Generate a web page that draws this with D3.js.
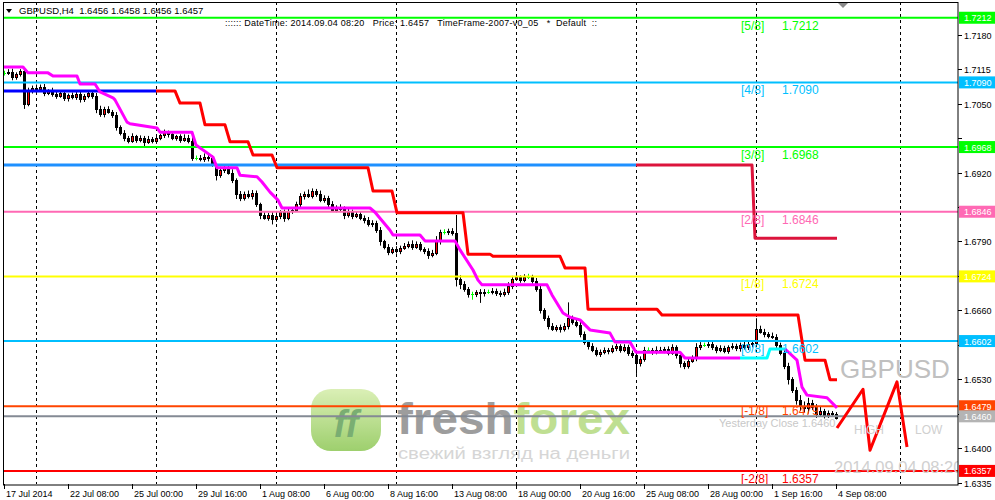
<!DOCTYPE html>
<html lang="en">
<head>
<meta charset="UTF-8">
<title>GBPUSD,H4</title>
<script src="https://cdn.jsdelivr.net/npm/d3@7"></script>
<style>
  body { margin: 0; background: #fff; }
  text { font-family: 'Liberation Sans', Arial, sans-serif; }
</style>
</head>
<body>
<svg width="995" height="500" id="mainsvg"></svg>
<script>
// H4 closes, pips above 1.6000 (one per bar, 17 Jul .. 4 Sep 08:00)
const closes = [
  1108,1110,1100,1105,1112,1050,1075,1080,1078,1082,
  1070,1074,1068,1065,1070,1060,1066,1062,1068,1058,
  1064,1070,1065,1040,1030,1040,1035,1028,1005,995,
  985,980,988,982,985,978,983,980,985,990,
  995,992,985,988,982,986,980,948,948,945,
  950,947,935,915,925,930,920,905,880,872,
  880,875,882,860,840,835,840,832,838,845,
  835,848,850,860,875,880,876,885,880,868,
  872,860,850,855,852,840,845,838,842,835,
  830,822,825,812,790,780,770,775,772,778,
  782,786,780,785,776,772,765,768,790,808,
  808,810,805,720,710,700,690,690,694,692,
  695,695,696,693,690,695,705,720,722,718,
  723,723,716,700,660,645,630,625,628,624,
  630,645,638,632,615,600,592,585,578,582,
  585,583,588,592,586,590,580,575,560,568,
  585,585,582,586,585,587,580,590,575,560,
  555,565,570,590,595,595,596,590,585,588,
  584,590,592,588,595,590,596,598,625,620,
  615,612,610,595,580,555,530,510,490,480,
  475,485,478,465,470,462,466,465,457
];
const upWick = [
  4,5,6,4,3,3,5,4,6,4, 5,3,6,4,5,4,3,5,4,6, 4,5,3,5,6,4,5,3,6,4,
  5,4,6,3,5,4,6,4,5,3, 6,4,5,3,4,6,5,8,4,5, 6,4,5,3,6,4,5,6,4,5,
  4,6,5,4,3,5,4,6,5,4, 5,6,4,5,6,4,8,5,4,6, 5,4,6,3,5,4,6,5,4,5,
  4,6,5,4,5,3,5,4,6,4, 5,4,6,5,4,3,5,6,10,4, 5,4,5,35,6,5,4,5,4,6,
  5,4,6,5,4,6,8,5,6,4, 5,6,4,5,6,4,5,6,4,5, 6,30,5,4,6,5,4,6,5,4,
  5,4,6,5,4,6,5,4,6,5, 6,5,4,6,5,4,5,6,4,5, 4,6,5,8,5,4,6,5,4,6,
  5,4,6,5,4,6,5,4,20,6, 5,4,6,5,4,5,6,4,5,10, 8,10,6,5,8,4,5,4,3
];
const dnWick = [
  5,4,6,5,4,10,5,6,4,5, 6,4,5,6,4,5,6,4,5,6, 5,4,6,8,5,6,4,5,6,5,
  6,5,4,6,5,8,4,5,6,4, 5,6,4,5,6,4,5,6,5,4, 5,6,4,10,5,6,4,5,10,6,
  5,4,6,5,8,4,6,10,5,6, 8,5,6,4,5,6,4,5,6,4, 5,6,4,5,6,8,5,6,4,5,
  6,4,5,6,8,5,6,4,5,6, 4,5,6,4,5,6,8,5,4,6, 5,6,4,15,10,5,6,10,5,18,
  6,4,5,6,5,4,6,5,4,6, 5,4,6,5,6,5,6,4,5,6, 4,6,5,4,6,5,6,4,5,6,
  5,6,4,5,6,5,6,5,20,6, 5,4,6,5,4,6,5,4,6,8, 6,5,4,6,5,4,6,5,6,4,
  5,6,4,5,6,4,5,6,5,4, 6,5,4,6,5,6,10,6,8,10, 8,10,6,8,5,6,5,4,3
];

const timeLabels = ['17 Jul 2014', '22 Jul 08:00', '25 Jul 00:00', '29 Jul 16:00', '1 Aug 08:00',
  '6 Aug 00:00', '8 Aug 16:00', '13 Aug 08:00', '18 Aug 00:00', '20 Aug 16:00', '25 Aug 08:00',
  '28 Aug 00:00', '1 Sep 16:00', '4 Sep 08:00'];
const timeLabelBars = [0, 16, 32, 48, 64, 80, 96, 112, 128, 144, 160, 176, 192, 208];
const gridBars = [8, 38, 68, 98, 128, 158, 188, 224];
const priceTicks = [1.7180, 1.7115, 1.7050, 1.6985, 1.6920, 1.6855, 1.6790, 1.6725,
  1.6660, 1.6595, 1.6530, 1.6465, 1.6400, 1.6335];

// Murrey math levels
const levelPrices = [1.7212, 1.7090, 1.6968, 1.6846, 1.6724, 1.6602, 1.6479, 1.6357];
const levelNames = ['[5/8]', '[4/8]', '[3/8]', '[2/8]', '[1/8]', '[0/8]', '[-1/8]', '[-2/8]'];
const levelColors = ['#00ff00', '#00bfff', '#00ff00', '#ff69b4', '#ffff00', '#00bfff', '#ff4500', '#ff0000'];
const labelDy = [12, 12, 12, 12, 12, 12, 9, 12];
const yesterdayClose = 1.6460;
const header = ['1.6456', '1.6458', '1.6456', '1.6457'];

// trailing line (magenta, with a cyan piece)
const magBars = [0, 4.75, 6, 11, 12.25, 18.25, 19, 22.75, 24, 27.25, 27.75, 30.75, 31.5, 38.25, 39, 47, 48,
  52.25, 53.25, 58.25, 59, 63.25, 64.5, 66.5, 68.5, 69.5, 91.5, 92.75, 96.5, 97.25, 104, 105.25, 112.75,
  114, 117.25, 118.5, 119.5, 135.75, 137, 139.75, 141.5, 144, 146.5, 151.5, 152.75, 156.5, 158, 169,
  170.25, 184];
const magPrices = [1.7119, 1.7119, 1.7108, 1.7108, 1.7102, 1.7102, 1.7087, 1.7087, 1.7072, 1.7061, 1.7057,
  1.7015, 1.7012, 1.7004, 1.6996, 1.6996, 1.6972, 1.6949, 1.6929, 1.6929, 1.6915, 1.6912, 1.6902, 1.6883,
  1.6868, 1.6853, 1.6853, 1.6845, 1.6811, 1.6802, 1.6802, 1.6791, 1.6791, 1.6774, 1.6736, 1.6717, 1.6708,
  1.6708, 1.6689, 1.6655, 1.6647, 1.6642, 1.6623, 1.6617, 1.6600, 1.6600, 1.6581, 1.6581, 1.6570, 1.6570];
const cyanBars = [184, 190.75, 191.5, 195.25];
const cyanPrices = [1.6570, 1.6570, 1.6587, 1.6587];
const mag2Bars = [195.25, 198.25, 199.5, 200.75, 205.75, 208.25];
const mag2Prices = [1.6587, 1.6566, 1.6515, 1.6500, 1.6495, 1.6476];

// red step resistance
const redFrom = [38, 44, 50.25, 56.5, 62.25, 68.25, 92.25, 98.25, 116, 122.25, 140.25, 146, 164.5, 200.25, 206.5];
const redTo = [42.75, 49, 55.25, 61, 67, 91, 97, 114.75, 121.5, 139, 145.25, 163.25, 198.5, 205.25, 208.25];
const redLevel = [1.7074, 1.7051, 1.7010, 1.6978, 1.6953, 1.6929, 1.6885, 1.6844, 1.6766, 1.6762, 1.6740,
  1.6662, 1.6651, 1.6566, 1.6529];

const blueBars = [0, 38], bluePrices = [1.7074, 1.7074];
const dodgerBars = [0, 158], dodgerPrices = [1.6934, 1.6934];
const crimsonBars = [158, 187, 187.75, 208.25];
const crimsonPrices = [1.6934, 1.6934, 1.6796, 1.6796];
const zigBars = [208.25, 214.75, 216.5, 223.25, 225.75];
const zigPrices = [1.6438, 1.6511, 1.6396, 1.6525, 1.6402];

const svg = d3.select('#mainsvg');
const plotL = 3, plotR = 958, plotT = 2, plotB = 484;

const xScale = d3.scaleLinear().domain([0, 238.5]).range([4, 958]);
const yScale = d3.scaleLinear().domain([1.63323, 1.72417]).range([plotB, plotT]);
const px = p => 1.6 + p / 10000;

svg.append('rect').attr('width', 995).attr('height', 500).attr('fill', '#fff');
svg.append('clipPath').attr('id', 'plot').append('rect')
  .attr('x', plotL).attr('y', plotT).attr('width', plotR - plotL).attr('height', plotB - plotT);
const g = svg.append('g').attr('clip-path', 'url(#plot)');

// watermark
const defs = svg.append('defs');
const grad = defs.append('linearGradient').attr('id', 'logo').attr('x1', 0).attr('y1', 0).attr('x2', 0).attr('y2', 1);
grad.append('stop').attr('offset', '0%').attr('stop-color', '#d2eca4');
grad.append('stop').attr('offset', '100%').attr('stop-color', '#86c44a');
const wm = g.append('g').attr('opacity', 0.8);
wm.append('rect').attr('x', 311).attr('y', 389).attr('width', 70).attr('height', 62).attr('rx', 20)
  .attr('fill', 'url(#logo)');
wm.append('text').attr('x', 346).attr('y', 437).attr('text-anchor', 'middle')
  .attr('font-size', 38).attr('font-weight', 'bold').attr('font-style', 'italic')
  .attr('fill', '#5a9a50').text('ff');
const brand = wm.append('text').attr('x', 397).attr('y', 434).attr('font-size', 44).attr('font-weight', 'bold')
  .attr('textLength', 233).attr('lengthAdjust', 'spacingAndGlyphs');
brand.append('tspan').attr('fill', '#858585').text('fresh');
brand.append('tspan').attr('fill', '#b0d878').text('forex');
wm.append('text').attr('x', 398).attr('y', 459).attr('font-size', 16).attr('fill', '#cccccc')
  .attr('textLength', 232).attr('lengthAdjust', 'spacingAndGlyphs').text('свежий взгляд на деньги');

// dashed grid
g.selectAll('.grid').data(gridBars).enter().append('line')
  .attr('x1', d => Math.round(xScale(d)) + 0.5).attr('x2', d => Math.round(xScale(d)) + 0.5)
  .attr('y1', plotT).attr('y2', plotB)
  .attr('stroke', '#000').attr('stroke-dasharray', '3,3');

// candles
const bars = closes.map((c, i) => {
  const o = i === 0 ? c : closes[i - 1];
  return { i, o: px(o), c: px(c), h: px(Math.max(o, c) + upWick[i]), l: px(Math.min(o, c) - dnWick[i]) };
});
const cg = g.append('g');
bars.forEach(b => {
  const cx = Math.round(xScale(b.i));
  const doji = b.o === b.c;
  const col = doji ? '#00ff00' : '#000';
  cg.append('line').attr('x1', cx + 0.5).attr('x2', cx + 0.5)
    .attr('y1', yScale(b.h)).attr('y2', yScale(b.l)).attr('stroke', col);
  if (doji) {
    const yy = Math.round(yScale(b.c)) + 0.5;
    cg.append('line').attr('x1', cx - 1).attr('x2', cx + 2).attr('y1', yy).attr('y2', yy).attr('stroke', col);
  } else {
    const y1 = Math.round(yScale(Math.max(b.o, b.c))) + 0.5;
    const y2 = Math.round(yScale(Math.min(b.o, b.c))) + 0.5;
    cg.append('rect').attr('x', cx - 0.5).attr('width', 2).attr('y', y1).attr('height', Math.max(y2 - y1, 1))
      .attr('fill', b.c > b.o ? '#ff0000' : '#000').attr('stroke', '#000');
  }
});

// horizontal levels
g.selectAll('.lvl').data(levelPrices).enter().append('line')
  .attr('x1', plotL).attr('x2', plotR)
  .attr('y1', d => yScale(d)).attr('y2', d => yScale(d))
  .attr('stroke', (d, i) => levelColors[i]).attr('stroke-width', 2);
g.append('line').attr('x1', plotL).attr('x2', plotR)
  .attr('y1', yScale(yesterdayClose)).attr('y2', yScale(yesterdayClose))
  .attr('stroke', '#848a94').attr('stroke-width', 2);

const line = d3.line().x(d => xScale(d[0])).y(d => yScale(d[1]));
const zipped = (bs, ps) => bs.map((b, i) => [b, ps[i]]);
const drawLine = (pts, color, w) => g.append('path').attr('d', line(pts))
  .attr('fill', 'none').attr('stroke', color).attr('stroke-width', w).attr('stroke-linejoin', 'round');

drawLine(zipped(blueBars, bluePrices), '#0000ff', 3);
drawLine(zipped(dodgerBars, dodgerPrices), '#1e90ff', 3);
drawLine(zipped(crimsonBars, crimsonPrices), '#dc143c', 3);
const redPts = [];
redFrom.forEach((f, i) => { redPts.push([f, redLevel[i]]); redPts.push([redTo[i], redLevel[i]]); });
drawLine(redPts, '#ff0000', 3);
drawLine(zipped(magBars, magPrices), '#ff00ff', 3);
drawLine(zipped(cyanBars, cyanPrices), '#00ffff', 3);
drawLine(zipped(mag2Bars, mag2Prices), '#ff00ff', 3);
drawLine(zipped(zigBars, zigPrices), '#ff0000', 3);

// level labels
levelPrices.forEach((p, i) => {
  g.append('text').attr('x', xScale(184.25)).attr('y', yScale(p) + labelDy[i])
    .attr('font-size', 12).attr('fill', levelColors[i]).text(levelNames[i]);
  g.append('text').attr('x', xScale(194.5)).attr('y', yScale(p) + labelDy[i])
    .attr('font-size', 12).attr('fill', levelColors[i]).text(p.toFixed(4));
});
g.append('text').attr('x', 719).attr('y', yScale(yesterdayClose) + 11)
  .attr('font-size', 11).attr('fill', '#c8c8c8').text('Yesterday Close ' + yesterdayClose.toFixed(4));

// annotations on the right
g.append('text').attr('x', 840).attr('y', 378).attr('font-size', 26).attr('fill', '#c0c0c0').text('GBPUSD');
g.append('text').attr('x', 854).attr('y', 434).attr('font-size', 12).attr('fill', '#d0d0d0').text('HIGH');
g.append('text').attr('x', 915).attr('y', 434).attr('font-size', 12).attr('fill', '#d0d0d0').text('LOW');
g.append('text').attr('x', 834).attr('y', 473).attr('font-size', 16.5).attr('fill', '#d0d0d0').text('2014.09.04 08:20');

// header
svg.append('path').attr('d', 'M6,9 L12,9 L9,13 Z').attr('fill', '#000');
svg.append('text').attr('x', 19).attr('y', 14).attr('font-size', 9.5).style('white-space', 'pre')
  .text('GBPUSD,H4  ' + header.join(' '));
svg.append('text').attr('x', 225).attr('y', 26).attr('font-size', 9).style('white-space', 'pre')
  .attr('textLength', 372).attr('lengthAdjust', 'spacing')
  .text(':::::: DateTime: 2014.09.04 08:20   Price: 1.6457   TimeFrame-2007-v0_05   *  Default  ::');
svg.append('path').attr('d', 'M838,3 L848,3 L843,8 Z').attr('fill', '#8a8a8a');

// frame
svg.append('rect').attr('x', plotL + 0.5).attr('y', plotT + 0.5).attr('width', plotR - plotL - 0.5)
  .attr('height', plotB - plotT + 0.5).attr('fill', 'none').attr('stroke', '#000');

// price axis (labels hidden under a level box are skipped)
const boxes = levelPrices.map((p, i) => ({ p, c: levelColors[i] }));
boxes.splice(7, 0, { p: yesterdayClose, c: '#b4b4b4' });
const ax = svg.append('g');
priceTicks.forEach(p => {
  const y = Math.round(yScale(p)) + 0.5;
  ax.append('line').attr('x1', plotR).attr('x2', plotR + 4).attr('y1', y).attr('y2', y).attr('stroke', '#000');
  if (boxes.some(b => Math.abs(yScale(b.p) - y) < 9)) return;
  ax.append('text').attr('x', 964).attr('y', y + 3.5).attr('font-size', 9).attr('fill', '#000').text(p.toFixed(4));
});
boxes.forEach(b => {
  const y = yScale(b.p);
  ax.append('rect').attr('x', 959).attr('y', y - 6).attr('width', 36).attr('height', 12).attr('fill', b.c);
  ax.append('text').attr('x', 964).attr('y', y + 3.5).attr('font-size', 9).attr('fill', '#fff').text(b.p.toFixed(4));
});

// time axis
timeLabelBars.forEach((b, i) => {
  const x = Math.round(xScale(b)) + 0.5;
  ax.append('line').attr('x1', x).attr('x2', x).attr('y1', plotB).attr('y2', plotB + 5).attr('stroke', '#000');
  ax.append('text').attr('x', x + 1.5).attr('y', 497).attr('font-size', 9).attr('fill', '#000').text(timeLabels[i]);
});
</script>
</body>
</html>
